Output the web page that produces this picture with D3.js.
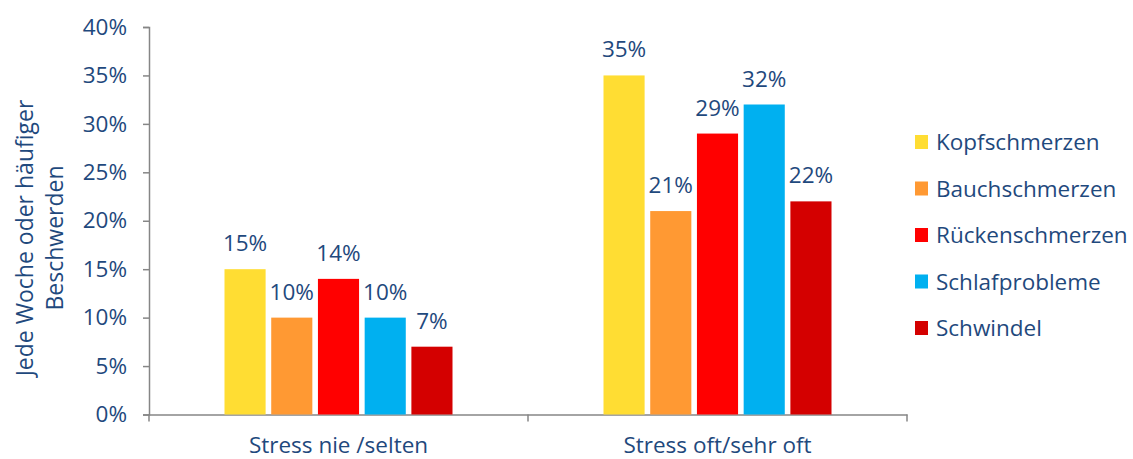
<!DOCTYPE html>
<html><head><meta charset="utf-8">
<script src="https://cdn.jsdelivr.net/npm/d3@7"></script>
<style>body{margin:0;background:#fff}svg{display:block}text{font-family:"Open Sans",sans-serif;fill:#1F497D}</style>
</head><body><svg id="c" width="1133" height="459"></svg>
<script>
const categories = ["Stress nie /selten", "Stress oft/sehr oft"];
const series = ["Kopfschmerzen", "Bauchschmerzen", "Rückenschmerzen", "Schlafprobleme", "Schwindel"];
const colors = ["#FFDD33", "#FF9933", "#FF0000", "#00B0F0", "#D40000"];
const values = {
  "Kopfschmerzen":   [15, 35],
  "Bauchschmerzen":  [10, 21],
  "Rückenschmerzen": [14, 29],
  "Schlafprobleme":  [10, 32],
  "Schwindel":       [7, 22]
};
const yTicks = [0, 5, 10, 15, 20, 25, 30, 35, 40];

const svg = d3.select("#c");
const m = {left: 149, right: 907, top: 27, bottom: 414.5};
const x0 = d3.scaleBand().domain(categories).range([m.left, m.right]).padding(0);
const groupW = 228;
const x1 = d3.scaleBand().domain(series)
  .range([(x0.bandwidth() - groupW) / 2, (x0.bandwidth() + groupW) / 2]).paddingInner(0.12);
const y = d3.scaleLinear().domain([0, 40]).range([m.bottom, m.top]);
const color = d3.scaleOrdinal().domain(series).range(colors);
const FS = "22.5px";

// y axis
const ya = svg.append("g").attr("transform", `translate(${m.left},0)`)
  .call(d3.axisLeft(y).tickValues(yTicks).tickFormat(d => d + "%").tickSize(6).tickPadding(16));
ya.select(".domain").attr("stroke", "#868686").attr("stroke-width", 1.5);
ya.selectAll(".tick line").attr("stroke", "#868686").attr("stroke-width", 1.5);
ya.selectAll(".tick text").style("font-size", FS).attr("fill", "#1F497D");

// x axis
const xa = svg.append("g").attr("transform", `translate(0,${m.bottom})`)
  .call(d3.axisBottom(x0).tickSize(0).tickPadding(23));
xa.select(".domain").attr("stroke", "#868686").attr("stroke-width", 1.5);
xa.selectAll(".tick text").style("font-size", FS).attr("fill", "#1F497D");
// category boundary ticks
const bounds = [m.left, x0(categories[1]), m.right];
svg.append("g").selectAll("line").data(bounds).join("line")
  .attr("x1", d => d).attr("x2", d => d).attr("y1", m.bottom).attr("y2", m.bottom + 7)
  .attr("stroke", "#868686").attr("stroke-width", 1.5);

// bars
const g = svg.append("g");
categories.forEach((cat, ci) => {
  series.forEach(s => {
    const v = values[s][ci];
    const bx = x0(cat) + x1(s);
    g.append("rect").attr("x", bx).attr("width", x1.bandwidth())
      .attr("y", y(v)).attr("height", y(0) - y(v)).attr("fill", color(s));
    g.append("text").attr("x", bx + x1.bandwidth() / 2).attr("y", y(v) - 18)
      .attr("text-anchor", "middle").style("font-size", FS).text(v + "%");
  });
});

// y title
const yt = svg.append("text").attr("transform", "translate(0,238) rotate(-90)")
  .attr("text-anchor", "middle").style("font-size", "23px");
yt.append("tspan").attr("x", 0).attr("y", 33).text("Jede Woche oder häufiger");
yt.append("tspan").attr("x", 0).attr("y", 63).text("Beschwerden");

// legend
const lg = svg.append("g").attr("transform", "translate(915,142)");
series.forEach((s, i) => {
  const r = lg.append("g").attr("transform", `translate(0,${i * 46.5})`);
  r.append("rect").attr("x", 0).attr("y", -7).attr("width", 13).attr("height", 14).attr("fill", color(s));
  r.append("text").attr("x", 21).attr("y", 8).style("font-size", FS).text(s);
});
</script></body></html>
